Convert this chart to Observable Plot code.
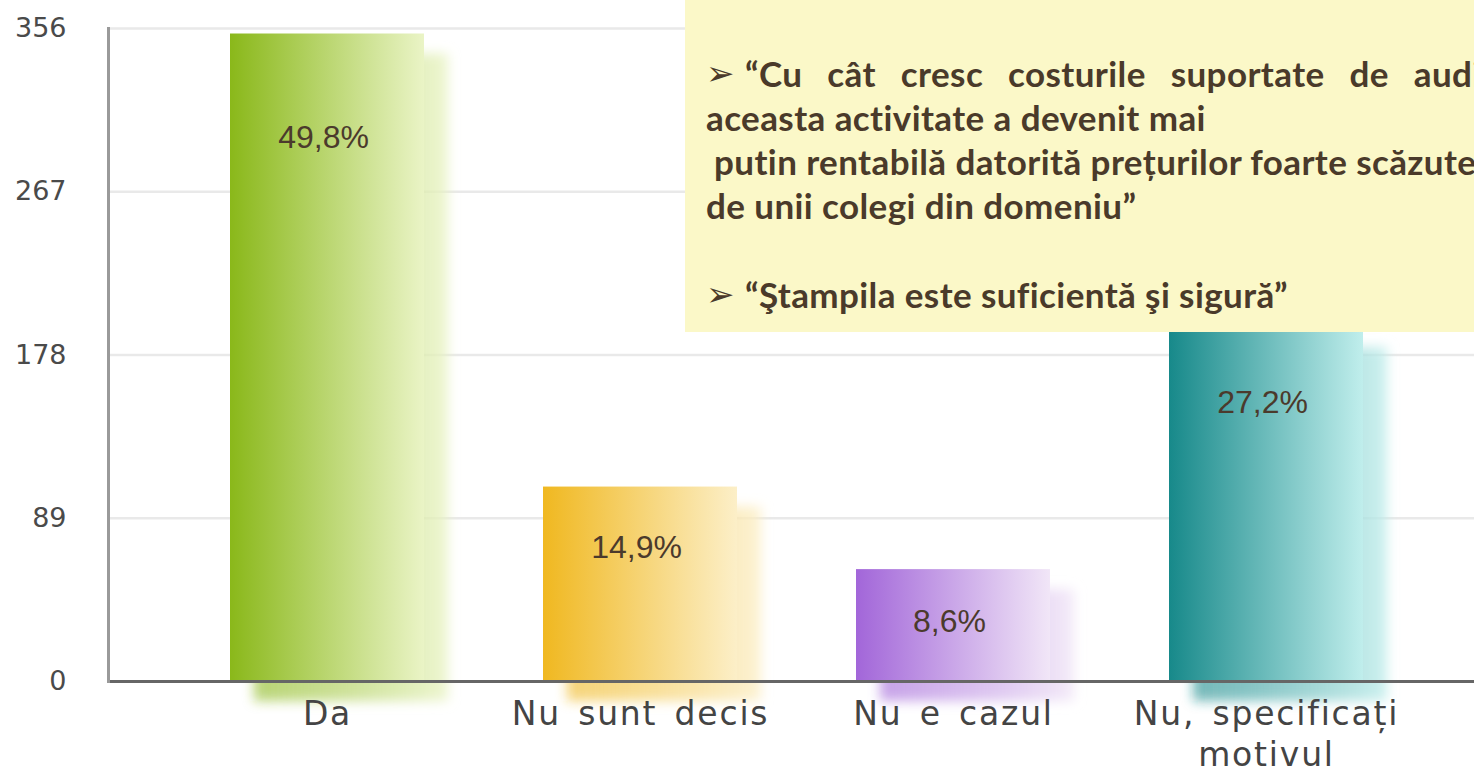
<!DOCTYPE html>
<html><head><meta charset="utf-8">
<script src="https://cdn.jsdelivr.net/npm/d3@7"></script>
<script src="https://cdn.jsdelivr.net/npm/@observablehq/plot@0.6"></script>
<style>
html,body{margin:0;padding:0;background:#fff;overflow:hidden;width:1474px;height:771px;}
#wrap{position:relative;width:1474px;height:771px;overflow:hidden;}
#note{position:absolute;left:685px;top:0;width:900px;height:332px;background:#fbf8c8;color:#4a3a2a;font-family:Lato,sans-serif;font-weight:700;font-size:35px;letter-spacing:0.4px;}
#note .l{position:absolute;white-space:pre;line-height:44px;}
#note .arr{font-family:"DejaVu Sans";font-weight:700;font-size:34px;letter-spacing:0;}
</style></head>
<body><div id="wrap"><div id="chart"></div>
<div id="note">
<div class="l arr" style="top:51px;left:21px">➢</div>
<div class="l" style="top:51px;left:60px;word-spacing:16px">“Cu cât cresc costurile suportate de auditori,</div>
<div class="l" style="top:95px;left:21px">aceasta activitate a devenit mai</div>
<div class="l" style="top:139px;left:29px">putin rentabilă datorită prețurilor foarte scăzute</div>
<div class="l" style="top:183px;left:21px">de unii colegi din domeniu”</div>
<div class="l arr" style="top:272px;left:21px">➢</div>
<div class="l" style="top:272px;left:60px">“Ştampila este suficientă şi sigură”</div>
</div>
</div>
<script>
const categories = ["Da", "Nu sunt decis", "Nu e cazul", "Nu, specificați\nmotivul"];
const counts = [353, 106, 61, 193];
const percentLabels = ["49,8%", "14,9%", "8,6%", "27,2%"];
const yTicks = [0, 89, 178, 267, 356];
const palette = [["#8ab81a", "#eaf4c6"], ["#f0b820", "#fcefc8"], ["#a266d9", "#f1e6f7"], ["#17898a", "#c0eeec"]];

const data = categories.map((c, i) => ({
  category: c, count: counts[i], label: percentLabels[i],
  fill: `url(#grad${i})`, shadow: `url(#shad${i})`
}));

const chart = Plot.plot({
  width: 1474, height: 771,
  marginLeft: 108, marginRight: 0, marginTop: 28, marginBottom: 90,
  x: {domain: categories, range: [108, 1486], paddingInner: 0.38, paddingOuter: 0.385, label: null},
  y: {domain: [0, 356], label: null},
  color: {type: "identity"},
  marks: [
    Plot.ruleY(yTicks.slice(1), {stroke: "#e9e9e9", strokeWidth: 2.5}),
    Plot.barY(data, {x: "category", y: "count", fill: "shadow", dx: 24, dy: 20}),
    Plot.barY(data, {x: "category", y: "count", fill: "fill"}),
    Plot.ruleY([0], {stroke: "#666", strokeWidth: 3}),
    Plot.frame({anchor: "left", stroke: "#9a9a9a", strokeWidth: 3}),
    Plot.axisY({ticks: yTicks, tickSize: 0, tickPadding: 42, fontSize: 27, fontFamily: "DejaVu Sans", fill: "#4a4a4a", label: null}),
    Plot.axisX({tickSize: 0, tickPadding: 14, fontSize: 33, lineHeight: 1.25, fontFamily: "DejaVu Sans", fill: "#444", label: null}),
    Plot.text(data, {x: "category", y: d => d.count * 0.905 - 22.9, dx: -4, text: "label", fontSize: 32, fontFamily: "Liberation Sans", fill: "#4b3a2c"})
  ]
});

const svg = d3.select(chart);
const defs = svg.insert("defs", ":first-child");
palette.forEach(([a, b], i) => {
  const g = defs.append("linearGradient").attr("id", `grad${i}`).attr("x1", 0).attr("x2", 1).attr("y1", 0).attr("y2", 0);
  g.append("stop").attr("offset", 0).attr("stop-color", a);
  g.append("stop").attr("offset", 1).attr("stop-color", b);
  const s = defs.append("linearGradient").attr("id", `shad${i}`).attr("x1", 0).attr("x2", 1).attr("y1", 0).attr("y2", 0);
  s.append("stop").attr("offset", 0).attr("stop-color", a).attr("stop-opacity", 0.6);
  s.append("stop").attr("offset", 1).attr("stop-color", b).attr("stop-opacity", 0.8);
});
defs.append("filter").attr("id", "blur").attr("x", "-20%").attr("y", "-20%").attr("width", "140%").attr("height", "140%")
  .append("feGaussianBlur").attr("stdDeviation", 6);
svg.select('g[aria-label="bar"]').attr("filter", "url(#blur)");
svg.selectAll('g[aria-label="x-axis tick label"] text').style("letter-spacing", "1.8px").style("word-spacing", "5px");

document.getElementById("chart").appendChild(chart);
</script>
</body></html>
